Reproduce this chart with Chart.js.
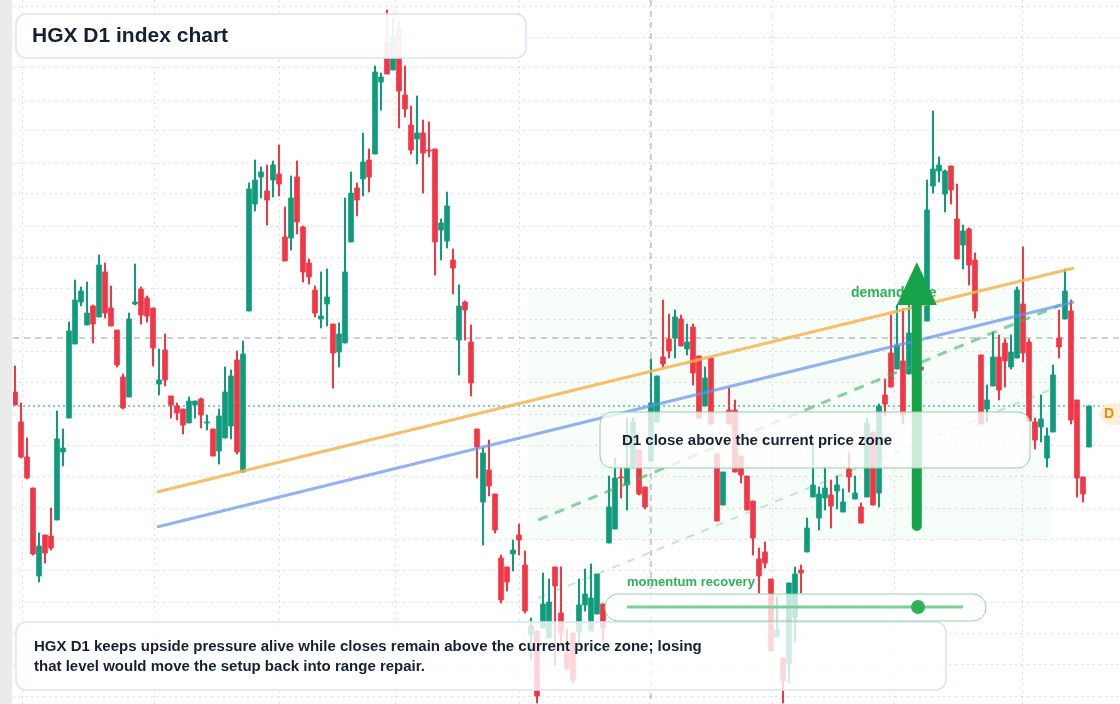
<!DOCTYPE html>
<html><head><meta charset="utf-8">
<script src="https://cdn.jsdelivr.net/npm/chart.js@4.4.1/dist/chart.umd.min.js"></script>
<style>
html,body{margin:0;padding:0;background:#fff;width:1120px;height:704px;overflow:hidden;font-family:"Liberation Sans",Arial,sans-serif}
#strip{position:absolute;left:0;top:0;width:12px;height:704px;background:#ebebeb}
#wrap{position:absolute;left:13px;top:0;width:1107px;height:704px}
</style></head><body>
<div id="strip"></div>
<div id="wrap"><canvas id="c"></canvas></div>
<script>
const opens=[608,578,543,512,424,465,464,480,548,582,656,698,675,694,683,728,692,670,623,603,696,711,702,692,616,650,604,594,591,577,595,601,577,571,549,562,574,640,528,689,796,823,809,820,826,763,762,823,773,737,710,681,696,676,648,657,758,812,821,840,846,918,957,930,971,905,875,861,867,850,851,770,759,740,660,698,658,571,498,530,506,442,433,446,465,435,365,369,372,362,433,387,347,367,368,395,369,386,396,457,471,523,515,533,550,513,539,578,643,661,662,681,651,673,644,594,642,546,495,590,590,544,524,499,441,448,421,363,342,336,383,430,448,503,482,502,505,509,488,531,501,493,503,568,507,605,647,631,639,626,654,633,679,814,829,806,834,781,755,771,740,645,591,614,643,657,633,642,696,658,578,573,542,568,662,681,689,600,523,553];
const highs=[634,597,562,512,467,465,492,589,571,678,720,713,718,695,745,737,714,670,626,687,736,713,704,692,651,666,604,597,591,603,599,602,585,571,591,633,630,649,659,817,840,833,835,839,855,793,824,839,774,741,714,728,731,676,677,802,828,817,867,851,934,927,990,982,978,934,894,904,880,878,851,781,808,751,715,699,675,571,552,560,506,445,433,460,476,449,382,369,427,421,433,433,371,367,421,431,436,426,396,524,542,533,582,582,550,513,641,624,700,686,690,685,676,676,644,633,642,546,528,612,600,544,524,499,452,458,421,403,342,417,433,435,482,558,513,533,520,524,511,547,524,497,582,568,596,621,685,695,691,700,654,633,820,889,843,830,834,816,775,772,747,645,615,668,665,661,665,713,753,661,582,605,572,635,690,731,700,600,523,594];
const lows=[595,542,521,445,418,437,450,480,534,582,656,694,675,657,683,682,674,633,591,603,695,676,678,634,605,614,582,580,566,577,582,572,570,544,536,562,561,546,528,689,789,802,775,803,804,739,750,766,718,716,683,672,674,612,633,657,758,784,804,808,846,890,926,930,872,883,846,836,807,843,725,740,752,706,625,660,604,522,455,504,467,397,409,429,445,387,340,297,372,362,335,353,331,317,353,389,369,386,358,457,471,502,490,533,505,491,539,578,633,642,642,654,645,615,582,594,576,479,495,576,528,517,490,445,407,432,349,363,297,317,358,407,448,503,470,490,472,491,488,508,501,477,503,495,493,584,613,631,576,626,630,630,679,807,818,788,796,741,731,715,682,576,578,614,600,613,631,642,638,579,551,558,533,568,642,681,576,503,498,553];
const closes=[595,543,522,446,454,447,452,561,552,669,700,709,687,676,735,687,674,635,592,681,698,685,684,652,620,620,595,587,575,599,599,585,578,544,584,608,624,548,646,811,820,828,800,835,816,739,802,778,728,723,687,684,703,647,666,728,807,800,838,823,928,923,926,963,909,891,850,867,847,849,758,777,794,732,694,690,617,553,547,514,470,400,418,450,460,389,374,304,396,398,414,367,331,320,395,406,402,426,372,493,522,522,532,578,506,493,597,624,636,649,683,654,658,627,582,622,576,479,528,576,528,525,490,462,424,437,349,370,319,417,426,427,472,515,506,512,494,515,498,523,507,477,577,495,594,596,613,655,585,667,630,630,790,831,835,829,810,741,769,735,689,576,600,643,610,639,648,710,647,579,560,581,564,625,653,709,580,522,506,594];
const xGridTicks=[12.33,34.33,54,73,95.2,116.2,136.2,157,179];
const yGridTicks=[304,336,367,398,430,461,492,524,555,586,618,649,681,712,743,774,806,837,869,900,932,963,994];
const trendOrange=[{x:23.67,y:508},{x:176.5,y:732}];
const trendBlue=[{x:23.67,y:473},{x:176.5,y:698}];
const channelUpper=[{x:87.2,y:480},{x:174.2,y:695}];
const channelLower=[{x:87.2,y:402},{x:172.5,y:610}];
const refLevel=662, currentLevel=594, crossIndex=106;
const arrowSpec={x:150.3,from:474,to:738};

const GREEN='#0e9c7d', RED='#f23645';
const col=opens.map((o,i)=>closes[i]>=o?GREEN:RED);
const wicks=opens.map((o,i)=>({x:i,y:[lows[i],highs[i]]}));
const bodies=opens.map((o,i)=>({x:i,y:[Math.min(o,closes[i]),Math.max(o,closes[i])]}));

function rr(ctx,x,y,w,h,r){ctx.beginPath();ctx.moveTo(x+r,y);ctx.arcTo(x+w,y,x+w,y+h,r);ctx.arcTo(x+w,y+h,x,y+h,r);ctx.arcTo(x,y+h,x,y,r);ctx.arcTo(x,y,x+w,y,r);ctx.closePath();}
const O=13;
const overlay={id:'overlay',
 beforeDatasetsDraw(ch){const c=ch.ctx,xs=ch.scales.x,ys=ch.scales.y;c.save();
  c.fillStyle='rgba(34,197,94,0.035)';rr(c,527-O,290,525,250,14);c.fill();
  c.setLineDash([6,5]);c.strokeStyle='rgba(120,120,120,0.7)';c.lineWidth=1;
  let y=ys.getPixelForValue(refLevel);c.beginPath();c.moveTo(0,y);c.lineTo(1107,y);c.stroke();
  let x=xs.getPixelForValue(crossIndex);c.beginPath();c.moveTo(x,0);c.lineTo(x,704);c.stroke();
  c.setLineDash([2,3]);c.strokeStyle='#0e9c7d';y=ys.getPixelForValue(currentLevel);c.beginPath();c.moveTo(0,y);c.lineTo(1107,y);c.stroke();
  c.restore();},
 afterDatasetsDraw(ch){const c=ch.ctx,xs=ch.scales.x,ys=ch.scales.y;c.save();
  c.font='bold 14px "Liberation Sans",Arial';c.fillStyle='#2fb157';c.textBaseline='middle';c.fillText('demand side',851-O,293);
  const ax=xs.getPixelForValue(arrowSpec.x),ay0=ys.getPixelForValue(arrowSpec.from),ay1=ys.getPixelForValue(arrowSpec.to);
  c.strokeStyle='#17a34a';c.fillStyle='#17a34a';c.lineWidth=10;c.lineCap='round';
  c.beginPath();c.moveTo(ax,ay0);c.lineTo(ax,ay1+40);c.stroke();
  c.beginPath();c.moveTo(ax,ay1);c.lineTo(ax+20,ay1+43);c.lineTo(ax-20,ay1+43);c.closePath();c.fill();
  c.lineCap='butt';c.lineWidth=1.5;
  c.fillStyle='rgba(255,255,255,0.92)';c.strokeStyle='#d6e4f7';rr(c,16-O,14,510,44,10);c.fill();c.stroke();
  c.lineWidth=1;
  c.fillStyle='rgba(255,255,255,0.78)';c.strokeStyle='#8fd3a3';rr(c,600-O,412,430,56,12);c.fill();c.stroke();
  c.lineWidth=1.5;
  c.fillStyle='rgba(255,255,255,0.8)';c.strokeStyle='#d6e4f7';rr(c,16-O,622,930,68,10);c.fill();c.stroke();
  c.lineWidth=1;
  c.fillStyle='rgba(255,255,255,0.75)';c.strokeStyle='#8fd3a3';rr(c,605-O,594,381,27,13);c.fill();c.stroke();
  c.strokeStyle='#7ccf97';c.lineWidth=3;c.beginPath();c.moveTo(627-O,607);c.lineTo(963-O,607);c.stroke();
  c.fillStyle='#2fb157';c.beginPath();c.arc(918-O,607,7,0,Math.PI*2);c.fill();
  c.fillStyle='#152033';c.textBaseline='middle';
  c.font='bold 21px "Liberation Sans",Arial';c.fillText('HGX D1 index chart',32-O,36);
  c.font='bold 15px "Liberation Sans",Arial';c.fillText('D1 close above the current price zone',622-O,441);
  c.font='bold 15px "Liberation Sans",Arial';
  c.fillText('HGX D1 keeps upside pressure alive while closes remain above the current price zone; losing',34-O,647);
  c.fillText('that level would move the setup back into range repair.',34-O,667);
  c.font='bold 13px "Liberation Sans",Arial';c.fillStyle='#2fb157';c.fillText('momentum recovery',627-O,582);
  c.fillStyle='rgba(255,237,213,0.9)';rr(c,1100-O,403,26,22,11);c.fill();
  c.fillStyle='#f08c00';c.font='bold 14px "Liberation Sans",Arial';c.fillText('D',1104-O,414);
  c.restore();}
};
const lineDs=(d,color,w,dash)=>({type:'line',data:d,borderColor:color,borderWidth:w,borderDash:dash,pointRadius:0,fill:false,order:0});
new Chart(document.getElementById('c'),{
 type:'bar',
 data:{datasets:[
  lineDs(trendOrange,'rgba(247,180,80,0.85)',3,[]),
  lineDs(trendBlue,'rgba(100,145,240,0.7)',3,[]),
  lineDs(channelUpper,'rgba(60,180,100,0.6)',3,[10,8]),
  lineDs(channelLower,'rgba(60,180,100,0.3)',2,[8,8]),
  {data:wicks,backgroundColor:col,barThickness:1.4,grouped:false,order:2},
  {data:bodies,backgroundColor:col,barThickness:5,grouped:false,minBarLength:1,order:1}
 ]},
 options:{responsive:true,maintainAspectRatio:false,animation:false,devicePixelRatio:1,
  layout:{padding:0},
  plugins:{legend:{display:false},tooltip:{enabled:false}},
  scales:{
   x:{type:'linear',min:-0.333,max:184.17,offset:false,
      afterBuildTicks:s=>{s.ticks=xGridTicks.map(v=>({value:v}));},
      ticks:{display:false},grid:{color:'rgba(0,0,0,0.13)',drawTicks:false,lineWidth:1},border:{display:false,dash:[2,4]}},
   y:{min:296,max:1000,
      afterBuildTicks:s=>{s.ticks=yGridTicks.map(v=>({value:v}));},
      ticks:{display:false},grid:{color:'rgba(0,0,0,0.13)',drawTicks:false},border:{display:false,dash:[2,4]}}
  }},
 plugins:[overlay]
});
</script></body></html>
